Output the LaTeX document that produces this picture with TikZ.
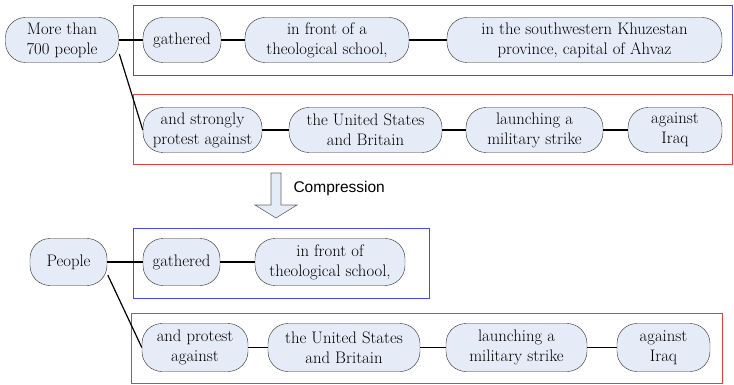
\documentclass[tikz,border=0pt]{standalone}
\usepackage{fontspec}
\newfontfamily\cmpfont{Liberation Sans}
\definecolor{phr_fill}{RGB}{230, 236, 247}
\definecolor{phr_draw}{RGB}{40, 40, 40}
\definecolor{grp_blue}{RGB}{70, 70, 255}
\definecolor{grp_red}{RGB}{235, 60, 60}
\usetikzlibrary{calc}

\begin{document}
\begin{tikzpicture}[x=1pt, y=-1pt,
      font=\rmfamily\fontsize{16.7}{20}\selectfont,
      phr/.style={draw=phr_draw, fill=phr_fill, rounded corners=20pt,
                  align=center, inner sep=0pt, minimum height=45pt},
      lnk/.style={line width=1.2pt},
      grp/.style={line width=1pt}]
    \useasboundingbox (0,0) rectangle (734,385);
    % Original sentence
    \draw[grp, grp_blue] (133,6) rectangle (732,76);
    \draw[grp, grp_red] (133,95) rectangle (732,165);
    \node[phr, minimum width=113pt] (root) at (62,40) {More than\\700 people};
    \node[phr, minimum width=78pt] (gath) at (182,40) {gathered};
    \node[phr, minimum width=164pt] (front) at (327,40)
      {in front of a\\theological school,};
    \node[phr, minimum width=275pt] (prov) at (584.5,40)
      {in the southwestern Khuzestan\\province, capital of Ahvaz};
    \node[phr, minimum width=119pt] (prot) at (202.5,130)
      {and strongly\\protest against};
    \node[phr, minimum width=153pt] (usa) at (365.5,130)
      {the United States\\and Britain};
    \node[phr, minimum width=137pt] (mil) at (534.5,130)
      {launching a\\military strike};
    \node[phr, minimum width=94pt] (iraq) at (675,130) {against\\Iraq};
    \draw[lnk] (root) -- (gath);
    \draw[lnk] (gath) -- (front);
    \draw[lnk] (front) -- (prov);
    \draw[lnk, shorten <=2pt] (root.-12) -- (prot.west);
    \draw[lnk] (prot) -- (usa);
    \draw[lnk] (usa) -- (mil);
    \draw[lnk] (mil) -- (iraq);
    % Compression arrow
    \draw[fill=phr_fill, draw=gray!80!black, line width=0.6pt]
      (271,173) -- (281,173) -- (281,205) -- (297,205) -- (276,218)
      -- (255,205) -- (271,205) -- cycle;
    \node[anchor=west, font=\cmpfont\fontsize{15.5}{18}\selectfont] (cmp)
      at (290,188) {Compression};
    % Compressed sentence
    \draw[grp, grp_blue] (133,228) rectangle (429,298);
    \draw[grp, grp_red] (131,313) rectangle (722,383);
    \node[phr, minimum width=77pt, minimum height=47pt] (croot) at (68.5,262)
      {People};
    \node[phr, minimum width=77pt, minimum height=47pt] (cgath) at (181.5,262)
      {gathered};
    \node[phr, minimum width=150pt, minimum height=47pt] (cfront) at (330,262)
      {in front of\\theological school,};
    \node[phr, minimum width=106pt, minimum height=48pt] (cprot) at (195,347.5)
      {and protest\\against};
    \node[phr, minimum width=152pt, minimum height=48pt] (cusa) at (344,347.5)
      {the United States\\and Britain};
    \node[phr, minimum width=141pt, minimum height=48pt] (cmil) at (516.5,347.5)
      {launching a\\military strike};
    \node[phr, minimum width=93pt, minimum height=48pt] (ciraq) at (663.5,347.5)
      {against\\Iraq};
    \draw[lnk] (croot) -- (cgath);
    \draw[lnk] (cgath) -- (cfront);
    \draw[lnk, shorten <=1.5pt] (croot.-17) -- (cprot.west);
    \draw[lnk] (cprot) -- (cusa);
    \draw[lnk] (cusa) -- (cmil);
    \draw[lnk] (cmil) -- (ciraq);
\end{tikzpicture}
\end{document}
